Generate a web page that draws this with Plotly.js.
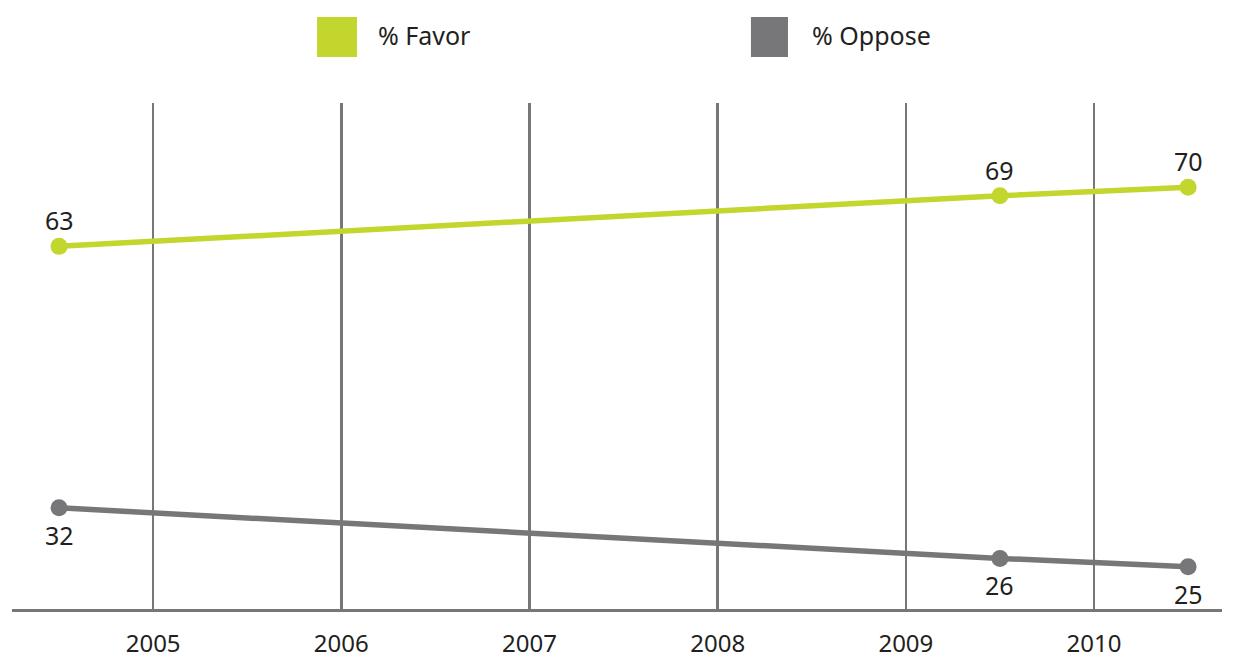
<!DOCTYPE html>
<html>
<head>
<meta charset="utf-8">
<script src="https://cdn.plot.ly/plotly-3.0.1.min.js"></script>
<style>html,body{margin:0;padding:0;background:#fff;}#chart{width:1236px;height:658px;}</style>
</head>
<body>
<div id="chart"></div>
<script>
const years = [2004.5, 2009.5, 2010.5];
const favor = [63, 69, 70];
const oppose = [32, 26, 25];
const tickYears = [2005, 2006, 2007, 2008, 2009, 2010];
const tickLabels = ['2005', '2006', '2007', '2008', '2009', '2010'];
const seriesNames = ['% Favor', '% Oppose'];

const GREEN = '#c3d62e';
const GRAY = '#77777a';
const TEXT = '#231f20';
const FONT = '"Noto Sans", "Open Sans", sans-serif';

const data = [
  {
    x: years, y: favor, name: seriesNames[0], type: 'scatter', mode: 'lines+markers',
    line: {color: GREEN, width: 5.5}, marker: {color: GREEN, size: 17},
    cliponaxis: false, hoverinfo: 'skip'
  },
  {
    x: years, y: oppose, name: seriesNames[1], type: 'scatter', mode: 'lines+markers',
    line: {color: GRAY, width: 5.5}, marker: {color: GRAY, size: 17},
    cliponaxis: false, hoverinfo: 'skip'
  }
];

const valueLabels = [];
years.forEach((x, i) => {
  valueLabels.push({x: x, y: favor[i], xref: 'x', yref: 'y', text: String(favor[i]), showarrow: false,
    yshift: 26, xanchor: 'center', yanchor: 'middle', font: {family: FONT, size: 25, color: TEXT}});
  valueLabels.push({x: x, y: oppose[i], xref: 'x', yref: 'y', text: String(oppose[i]), showarrow: false,
    yshift: -27, xanchor: 'center', yanchor: 'middle', font: {family: FONT, size: 25, color: TEXT}});
});

const layout = {
  width: 1236, height: 658,
  margin: {l: 12, r: 14, t: 103, b: 49, pad: 0},
  paper_bgcolor: '#fff', plot_bgcolor: '#fff',
  showlegend: false,
  font: {family: FONT, color: TEXT},
  xaxis: {
    range: [2004.25, 2010.68], tickvals: tickYears, ticktext: tickLabels,
    showgrid: true, gridcolor: GRAY, gridwidth: 2.5,
    showline: true, linecolor: GRAY, linewidth: 2.5,
    ticks: '', ticklabelstandoff: 12,
    tickfont: {family: FONT, size: 24, color: TEXT},
    zeroline: false, automargin: false, fixedrange: true
  },
  yaxis: {
    range: [20, 80], showgrid: false, showticklabels: false, zeroline: false,
    showline: false, automargin: false, fixedrange: true
  },
  shapes: [
    {type: 'rect', xref: 'paper', yref: 'paper', x0: 0.2521, x1: 0.2851, y0: 1.0909, y1: 1.170, fillcolor: GREEN, line: {width: 0}},
    {type: 'rect', xref: 'paper', yref: 'paper', x0: 0.6107, x1: 0.6413, y0: 1.0909, y1: 1.170, fillcolor: GRAY, line: {width: 0}}
  ],
  annotations: [
    {xref: 'paper', yref: 'paper', x: 0.3008, y: 1.134, xanchor: 'left', yanchor: 'middle', text: seriesNames[0], showarrow: false, font: {family: FONT, size: 25, color: TEXT}},
    {xref: 'paper', yref: 'paper', x: 0.6595, y: 1.134, xanchor: 'left', yanchor: 'middle', text: seriesNames[1], showarrow: false, font: {family: FONT, size: 25, color: TEXT}}
  ].concat(valueLabels)
};

Plotly.newPlot('chart', data, layout, {staticPlot: true, displayModeBar: false});
</script>
</body>
</html>
